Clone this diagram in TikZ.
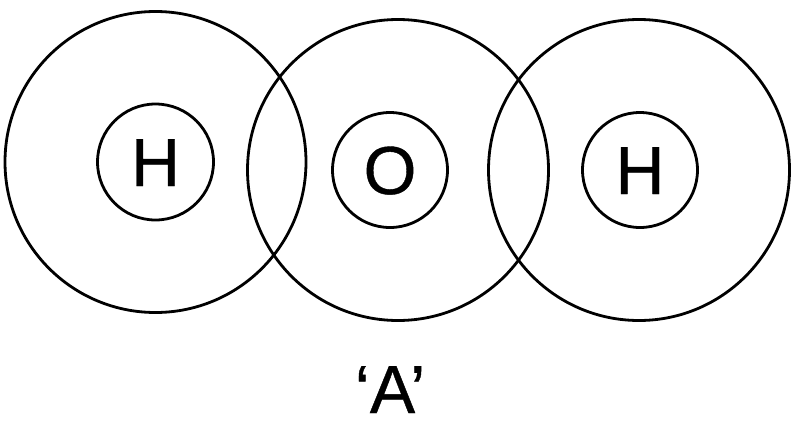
\documentclass[tikz,border=0pt]{standalone}
\usepackage{fontspec}
\setmainfont{Liberation Sans}
\newfontfamily\thickfont[FakeBold=0.6]{Liberation Sans}
\begin{document}
\begin{tikzpicture}[x=1pt,y=-1pt,
  shell/.style={draw=black,line width=2.8pt,circle,minimum size=#1,inner sep=0pt},
  lbl/.style={font=\thickfont\fontsize{68}{68}\selectfont,inner sep=0pt}]
\useasboundingbox (0,0) rectangle (794,423);
\node[shell=301pt] (b1) at (155.5,162) {};
\node[shell=301pt] (b2) at (398,170) {};
\node[shell=301pt] (b3) at (639,170) {};
\node[shell=116pt] (s1) at (155.5,162) {};
\node[shell=115pt] (s2) at (390,170) {};
\node[shell=115pt] (s3) at (640,170) {};
\node[lbl,anchor=base] (t1) at (155.5,186) {H};
\node[lbl,anchor=base] (t2) at (390,194) {O};
\node[lbl,anchor=base] (t3) at (640,194) {H};
\node[lbl,anchor=base] (cap) at (390,413) {‘A’};
\end{tikzpicture}
\end{document}
